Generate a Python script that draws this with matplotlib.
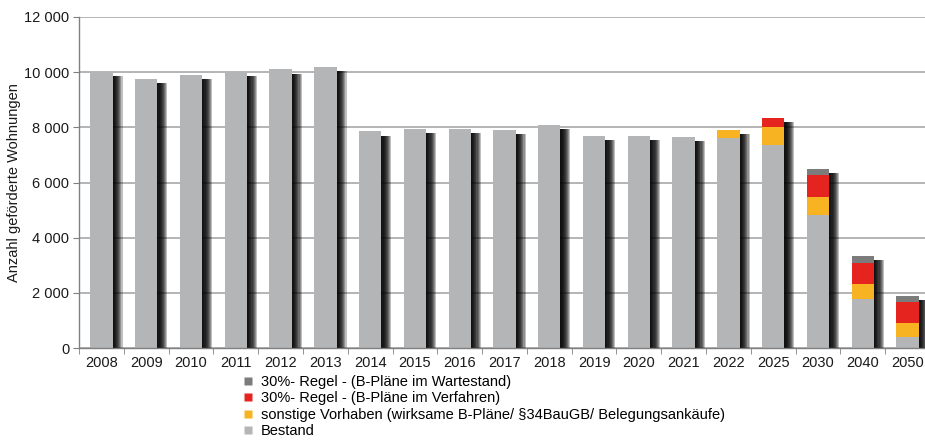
import numpy as np
import matplotlib
matplotlib.use("Agg")
import matplotlib.pyplot as plt
import matplotlib.patheffects as pe
from matplotlib.lines import Line2D
from matplotlib.ticker import FuncFormatter, MultipleLocator, FixedLocator

plt.rcParams["font.family"] = ["Liberation Sans", "DejaVu Sans"]

years = ["2008", "2009", "2010", "2011", "2012", "2013", "2014", "2015", "2016", "2017",
         "2018", "2019", "2020", "2021", "2022", "2025", "2030", "2040", "2050"]
bestand = [10000, 9750, 9900, 10000, 10100, 10200, 7850, 7950, 7950, 7900,
           8100, 7700, 7680, 7650, 7620, 7350, 4830, 1780, 390]
sonstige = [0, 0, 0, 0, 0, 0, 0, 0, 0, 0, 0, 0, 0, 0, 280, 650, 630, 540, 500]
verfahren = [0, 0, 0, 0, 0, 0, 0, 0, 0, 0, 0, 0, 0, 0, 0, 350, 800, 770, 780]
wartestand = [0, 0, 0, 0, 0, 0, 0, 0, 0, 0, 0, 0, 0, 0, 0, 0, 230, 250, 230]

series = [
    ("Bestand", bestand, "#b4b5b7"),
    ("sonstige Vorhaben (wirksame B-Pläne/ §34BauGB/ Belegungsankäufe)", sonstige, "#f8b322"),
    ("30%- Regel - (B-Pläne im Verfahren)", verfahren, "#e52420"),
    ("30%- Regel - (B-Pläne im Wartestand)", wartestand, "#7c7c7c"),
]

fig = plt.figure(figsize=(9.25, 4.45), dpi=100)
ax = fig.add_axes([79 / 925, 97 / 445, 851 / 925, 331 / 445])

x = np.arange(len(years))
width = 0.5

# soft drop shadow behind each full stack, dark near the bar and fading out
totals = np.sum([s[1] for s in series], axis=0)
shadow = [pe.SimplePatchShadow(offset=(k * 0.8, -3), shadow_rgbFace="black", alpha=0.25)
          for k in range(1, 10)]
ax.bar(x, totals, width, color="none", edgecolor="none", zorder=2,
       path_effects=shadow)

bottom = np.zeros(len(years))
for name, vals, color in series:
    ax.bar(x, vals, width, bottom=bottom, color=color, edgecolor="none", zorder=3)
    bottom += np.array(vals)

ax.set_xlim(-0.5, len(years) - 0.5)
ax.set_ylim(0, 12000)
ax.yaxis.set_major_locator(MultipleLocator(2000))
ax.yaxis.set_major_formatter(FuncFormatter(lambda v, _: f"{v:,.0f}".replace(",", " ")))
ax.set_xticks(x)
ax.set_xticklabels(years)
ax.xaxis.set_minor_locator(FixedLocator(np.arange(-0.5, len(years), 1.0)))
ax.tick_params(axis="x", which="major", length=0, pad=6, labelsize=10.5, colors="#1a1a1a")
ax.tick_params(axis="x", which="minor", length=4, color="#808080")
ax.tick_params(axis="y", length=4, labelsize=10.5, pad=3, labelcolor="#1a1a1a", color="#808080")

ax.grid(axis="y", color="#a8a8a8", linewidth=1.2, zorder=0)
ax.set_axisbelow(True)
for side in ("top", "right"):
    ax.spines[side].set_visible(False)
for side in ("left", "bottom"):
    ax.spines[side].set_color("#808080")
    ax.spines[side].set_linewidth(1.0)
    ax.spines[side].set_zorder(4)

ax.set_ylabel("Anzahl geförderte Wohnungen", fontsize=10.5, color="#1a1a1a", labelpad=2)

handles = [Line2D([], [], marker="s", linestyle="none", markersize=6,
                  markerfacecolor=c, markeredgecolor="none", label=n)
           for n, _, c in reversed(series)]
fig.legend(handles=handles, loc="upper left", bbox_to_anchor=(244 / 925, 1 - 375 / 445),
           frameon=False, fontsize=10.5, handlelength=0.6, handletextpad=0.55,
           labelspacing=0.16, borderpad=0, borderaxespad=0)

fig.savefig("out.png", dpi=100)
